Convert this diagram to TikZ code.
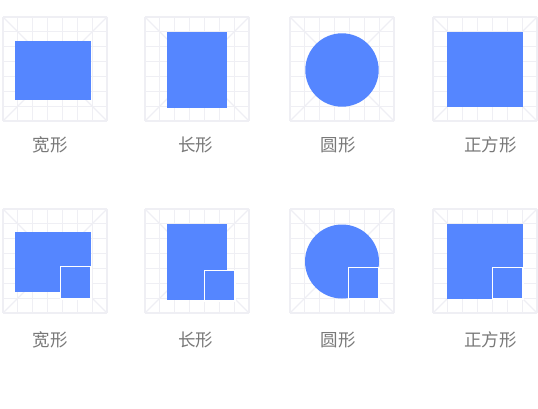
\documentclass[tikz,border=0pt]{standalone}
\usepackage{fontspec}
\newfontfamily\cjk{Noto Sans CJK SC}
\definecolor{gridc}{HTML}{EFEFF4}
\definecolor{shapec}{HTML}{5586FF}
\definecolor{textc}{HTML}{787878}
\newcommand\gridbox[2]{%
  \begin{scope}[shift={(#1,#2)}]
    \foreach \i in {0,...,7} {
      \draw[gridline] (\i*104/7,0) -- (\i*104/7,104);
      \draw[gridline] (0,\i*104/7) -- (104,\i*104/7);
    }
    \draw[gridline] (0,0) -- (104,104) (104,0) -- (0,104);
  \end{scope}}
\begin{document}
\begin{tikzpicture}[x=1pt,y=-1pt,
  gridline/.style={draw=gridc,line width=1.2pt},
  bigshape/.style={fill=shapec},
  smallshape/.style={fill=shapec,draw=white,line width=1.5pt},
  lbl/.style={font=\cjk\fontsize{17.5}{17.5}\selectfont,text=textc,inner sep=0pt}]
\useasboundingbox (0,0) rectangle (538,409);
% grids
\foreach \x in {3,145,290,433} {
  \gridbox{\x}{17}
  \gridbox{\x}{209}
}
% top row shapes
\fill[bigshape] (15,41) rectangle (91,100);
\fill[bigshape] (167,32) rectangle (227,108);
\fill[bigshape] (342,70) circle (36.7);
\fill[bigshape] (447,32) rectangle (523,107);
% bottom row shapes
\fill[bigshape] (15,232) rectangle (91,292);
\filldraw[smallshape] (60.5,266.5) rectangle (91,299);
\fill[bigshape] (167,224) rectangle (227,300);
\filldraw[smallshape] (204.5,270.5) rectangle (235,301);
\fill[bigshape] (342,261.5) circle (37);
\filldraw[smallshape] (348.5,267.5) rectangle (379,299);
\fill[bigshape] (447,224) rectangle (523,299);
\filldraw[smallshape] (492.5,267.5) rectangle (523,299);
% labels
\node[lbl] (l1) at (50,145) {宽形};
\node[lbl] (l2) at (195.5,145) {长形};
\node[lbl] (l3) at (338,145) {圆形};
\node[lbl] (l4) at (490.5,145) {正方形};
\node[lbl] (l5) at (50,340) {宽形};
\node[lbl] (l6) at (195.5,340) {长形};
\node[lbl] (l7) at (338,340) {圆形};
\node[lbl] (l8) at (490.5,340) {正方形};
\end{tikzpicture}
\end{document}
